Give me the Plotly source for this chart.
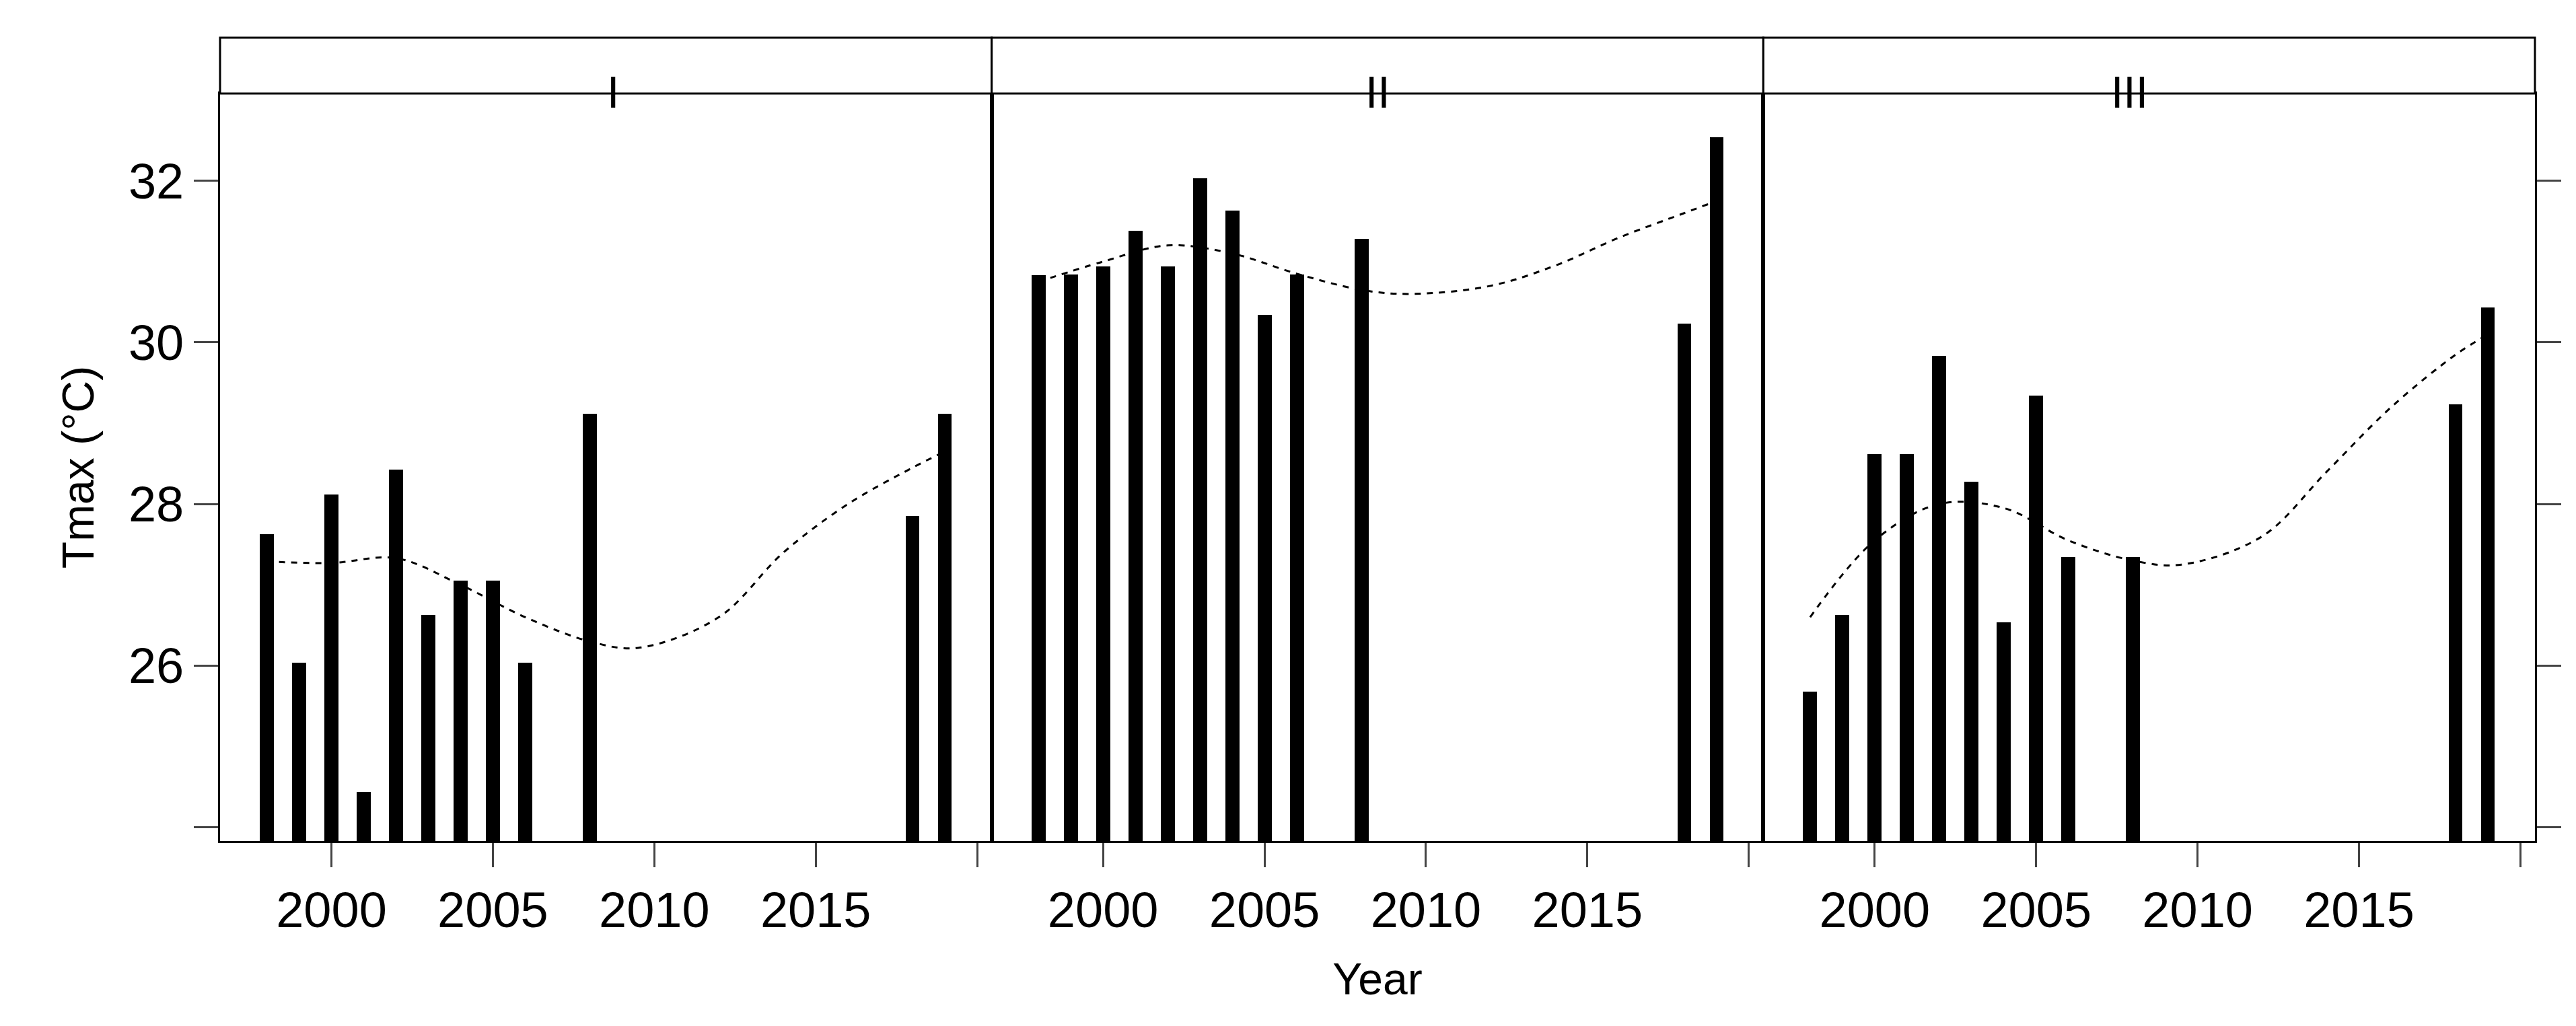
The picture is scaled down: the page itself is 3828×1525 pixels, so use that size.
import plotly.graph_objects as go
from plotly.subplots import make_subplots

panels = ["I", "II", "III"]
years = [1998, 1999, 2000, 2001, 2002, 2003, 2004, 2005, 2006, 2008, 2018, 2019]
tmax_I = [27.63, 26.04, 28.12, 24.44, 28.43, 26.63, 27.05, 27.05, 26.04, 29.12, 27.85, 29.12]
tmax_II = [30.83, 30.84, 30.94, 31.38, 30.94, 32.03, 31.63, 30.34, 30.84, 31.28, 30.23, 32.54]
tmax_III = [25.68, 26.63, 28.62, 28.62, 29.83, 28.28, 26.54, 29.34, 27.34, 27.34, 29.23, 30.43]

smooth_years = [1998, 2000, 2002, 2004, 2006, 2008, 2009.5, 2012, 2014, 2016, 2018, 2019]
smooth_I = [27.29, 27.27, 27.33, 27.0, 26.6, 26.3, 26.22, 26.6, 27.4, 28.0, 28.45, 28.65]
smooth_II = [30.75, 31.0, 31.2, 31.1, 30.85, 30.65, 30.6, 30.7, 30.95, 31.3, 31.6, 31.75]
smooth_III = [26.6, 27.55, 28.0, 27.95, 27.55, 27.3, 27.25, 27.6, 28.4, 29.2, 29.85, 30.1]

bars = [tmax_I, tmax_II, tmax_III]
smooths = [smooth_I, smooth_II, smooth_III]

W, H = 3828, 1525
L, R, T, B = 319, 69, 131, 283

fig = make_subplots(rows=1, cols=3, shared_yaxes=True, horizontal_spacing=0)
for i in range(3):
    fig.add_trace(go.Bar(x=years, y=bars[i], width=0.43, marker_color="black",
                         marker_line_width=0, showlegend=False), row=1, col=i + 1)
    fig.add_trace(go.Scatter(x=smooth_years, y=smooths[i], mode="lines",
                             line=dict(color="black", width=3, dash="dash", shape="spline"),
                             showlegend=False), row=1, col=i + 1)

font = "Liberation Sans, Arial, sans-serif"
fig.update_xaxes(range=[1996.55, 2020.45], tickvals=[2000, 2005, 2010, 2015, 2020],
                 ticktext=["2000", "2005", "2010", "2015", ""], ticks="outside",
                 ticklen=36, tickwidth=3, showline=True, linewidth=3, linecolor="black",
                 mirror=True, showgrid=False, zeroline=False,
                 tickfont=dict(size=74, color="black", family=font))
fig.update_xaxes(title_text="Year", title_font=dict(size=66, color="black", family=font),
                 title_standoff=40, row=1, col=2)
fig.update_yaxes(range=[23.83, 33.08], tickvals=[24, 26, 28, 30, 32],
                 ticktext=["", "26", "28", "30", "32"], showline=True, linewidth=3,
                 linecolor="black", mirror=True, showgrid=False, zeroline=False,
                 tickfont=dict(size=74, color="black", family=font))
fig.update_yaxes(ticks="outside", ticklen=36, tickwidth=3, title_text="Tmax (°C)",
                 title_font=dict(size=66, color="black", family=font), title_standoff=30,
                 row=1, col=1)
fig.update_yaxes(ticks="", row=1, col=2)
fig.update_yaxes(ticks="outside", ticklen=36, tickwidth=3, side="right",
                 showticklabels=False, row=1, col=3)

strip_top = 1 + (T - 48) / (H - T - B)
for i, name in enumerate(panels):
    dom = fig.layout["xaxis" + ("" if i == 0 else str(i + 1))].domain
    fig.add_shape(type="rect", xref="paper", yref="paper", x0=dom[0], x1=dom[1],
                  y0=1, y1=strip_top, line=dict(color="black", width=3), fillcolor="white")
    fig.add_annotation(xref="paper", yref="paper", x=(dom[0] + dom[1]) / 2,
                       y=(1 + strip_top) / 2, text=name, showarrow=False,
                       font=dict(size=66, color="black", family=font))

fig.update_layout(width=W, height=H, margin=dict(l=L, r=R, t=T, b=B),
                  plot_bgcolor="white", paper_bgcolor="white", bargap=0)
fig.write_html("out.html")
